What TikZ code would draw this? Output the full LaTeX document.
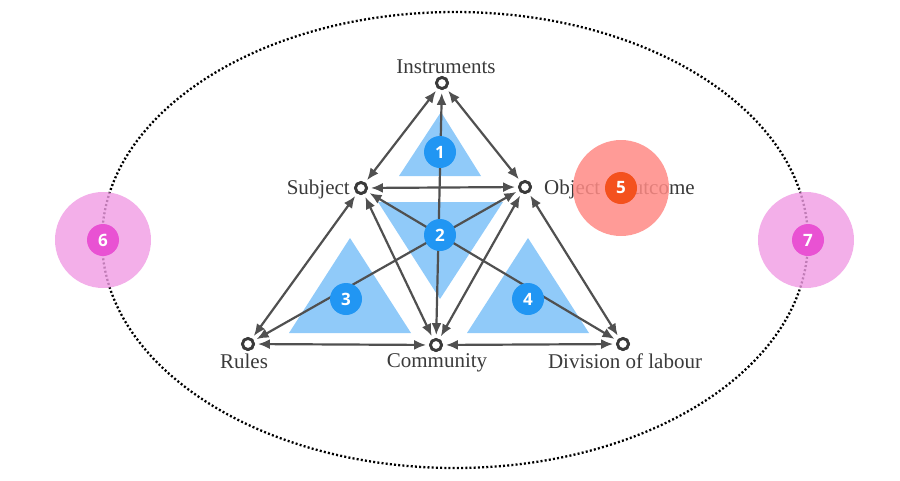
\documentclass[tikz,border=0pt]{standalone}
\usepackage{fontspec}
\setmainfont{Liberation Serif}
\newfontfamily\badgefont{Open Sans}
\usetikzlibrary{arrows.meta}
\definecolor{linegray}{HTML}{505050}
\definecolor{textgray}{HTML}{3A3A3A}
\definecolor{triblue}{HTML}{90CAF9}
\definecolor{badgeblue}{HTML}{2196F3}
\definecolor{redin}{HTML}{F4511E}
\definecolor{redout}{HTML}{FF8A85}
\definecolor{pinkin}{HTML}{E952D3}
\definecolor{pinkout}{HTML}{F09BE4}
\tikzset{
  pt/.style={circle,draw=textgray,line width=2.8pt,minimum size=11pt,inner sep=0pt,fill=white},
  conn/.style={linegray,line width=2.2pt,{Latex[length=12pt,width=10pt]}-{Latex[length=12pt,width=10pt]},shorten <=3pt,shorten >=3pt},
  lbl/.style={text=textgray,font=\fontsize{21}{24}\selectfont,inner sep=0pt},
  tri/.style={fill=triblue,draw=none},
  badge/.style={circle,minimum size=32pt,inner sep=0pt,text=white,font=\badgefont\bfseries\fontsize{17}{20}\selectfont},
}
\begin{document}
\begin{tikzpicture}[x=1pt,y=-1pt]
\useasboundingbox (0,0) rectangle (900,480);
% ellipse
\draw[black,line width=2.3pt,dash pattern=on 2pt off 2.2pt] (455,240) ellipse [x radius=353,y radius=228];
% triangles
\fill[tri] (441,112) -- (481,176) -- (399,176) -- cycle;
\fill[tri] (378,202) -- (503,202) -- (440,299) -- cycle;
\fill[tri] (350,238) -- (411,333) -- (289,333) -- cycle;
\fill[tri] (528,238) -- (589,333) -- (467,333) -- cycle;
% points
\node[pt] (ins) at (442,83) {};
\node[pt] (sub) at (361,188) {};
\node[pt] (obj) at (525,187) {};
\node[pt] (rul) at (248,344) {};
\node[pt] (com) at (436,345) {};
\node[pt] (div) at (623,344) {};
% connectors
\draw[conn] (ins) -- (sub);
\draw[conn] (ins) -- (obj);
\draw[conn] (ins) -- (com);
\draw[conn] (sub) -- (obj);
\draw[conn] (sub) -- (rul);
\draw[conn] (sub) -- (com);
\draw[conn] (sub) -- (div);
\draw[conn] (obj) -- (rul);
\draw[conn] (obj) -- (com);
\draw[conn] (obj) -- (div);
\draw[conn] (rul) -- (com);
\draw[conn] (com) -- (div);
% redraw points on top
\foreach \n in {ins,sub,obj,rul,com,div} \node[pt] at (\n) {};
% labels
\node[lbl,anchor=base] (tins) at (446,73) {Instruments};
\node[lbl,anchor=base east] (tsub) at (350,194) {Subject};
\node[lbl,anchor=base west] (tobj) at (544,194) {Object - Outcome};
\node[lbl,anchor=base] (trul) at (244,368) {Rules};
\node[lbl,anchor=base] (tcom) at (437,367) {Community};
\node[lbl,anchor=base] (tdiv) at (625,368) {Division of labour};
% blue badges
\node[badge,fill=badgeblue] (b1) at (440,152) {1};
\node[badge,fill=badgeblue] (b2) at (440,235) {2};
\node[badge,fill=badgeblue] (b3) at (346,299) {3};
\node[badge,fill=badgeblue] (b4) at (528,299) {4};
% red badge
\fill[redout,opacity=0.85] (621,188) circle[radius=48];
\node[badge,fill=redin] (b5) at (621,188) {5};
% pink badges
\fill[pinkout,opacity=0.8] (103,240) circle[radius=48];
\node[badge,fill=pinkin] (b6) at (103,240) {6};
\fill[pinkout,opacity=0.8] (806,240) circle[radius=48];
\node[badge,fill=pinkin] (b7) at (808,240) {7};
\end{tikzpicture}
\end{document}
